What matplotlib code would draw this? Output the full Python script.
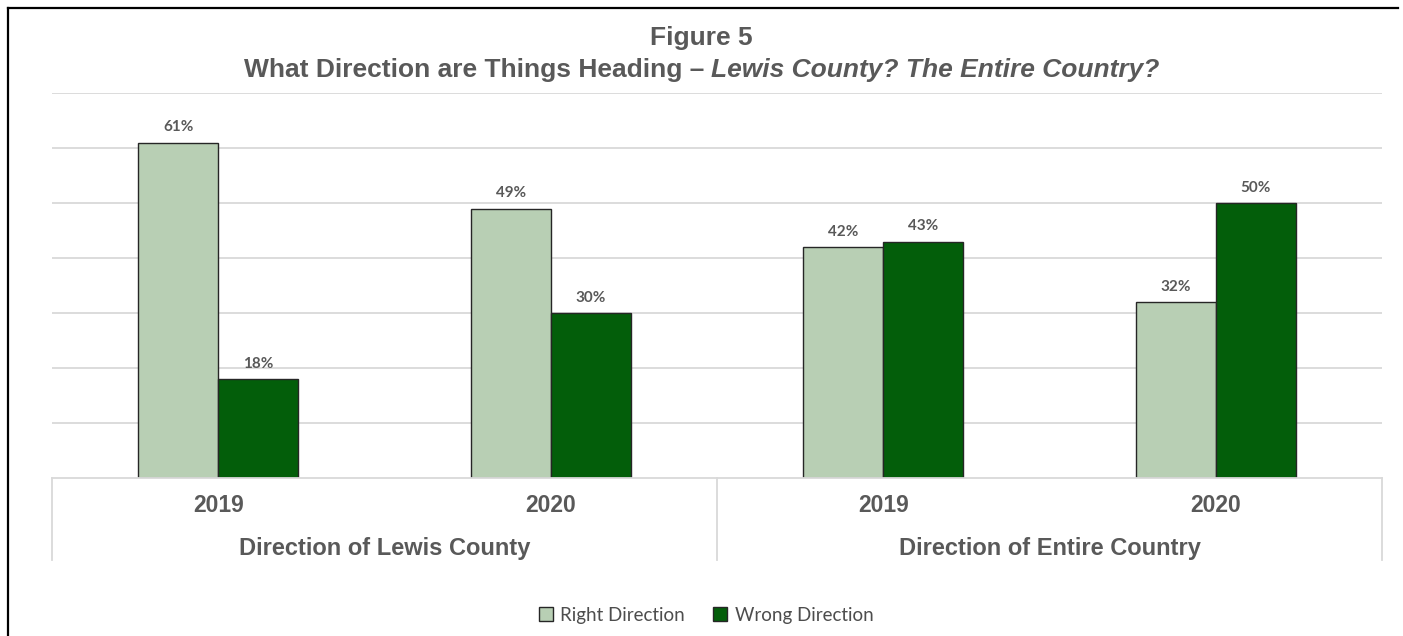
import numpy as np
import matplotlib.pyplot as plt
from matplotlib.lines import Line2D
from matplotlib.patches import Patch

years = ["2019", "2020", "2019", "2020"]
groups = ["Direction of Lewis County", "Direction of Entire Country"]
series = ["Right Direction", "Wrong Direction"]
right_dir = [61, 49, 42, 32]
wrong_dir = [18, 30, 43, 50]

light = "#b8cfb4"
dark = "#035e0a"
grey = "#595959"
grid = "#d9d9d9"

fig = plt.figure(figsize=(14.03, 6.36), dpi=100)
W, H = 1403, 636
ax = fig.add_axes([52 / W, (H - 478) / H, (1382 - 52) / W, (478 - 93) / H])

x = np.arange(len(years))
bw = 0.24
b1 = ax.bar(x - bw / 2, right_dir, bw, color=light, edgecolor="#262626", linewidth=1, zorder=3)
b2 = ax.bar(x + bw / 2, wrong_dir, bw, color=dark, edgecolor="#262626", linewidth=1, zorder=3)

for bars, vals in ((b1, right_dir), (b2, wrong_dir)):
    for r, v in zip(bars, vals):
        ax.annotate(f"{v}%", (r.get_x() + r.get_width() / 2, v), xytext=(0, 6),
                    textcoords="offset points", ha="center", va="bottom",
                    fontsize=11, fontweight="bold", color=grey, family="Lato")

ax.set_xlim(-0.5, 3.5)
ax.set_ylim(0, 70)
ax.set_yticks(np.arange(10, 71, 10))
ax.yaxis.grid(True, color=grid, linewidth=1.3, zorder=0)
ax.tick_params(left=False, bottom=False, labelleft=False, labelbottom=False)
for s in ax.spines.values():
    s.set_visible(False)

# category box under the plot
tr = ax.get_xaxis_transform()
ax.plot([-0.5, 3.5], [0, 0], transform=tr, color=grid, lw=1.3, clip_on=False, zorder=4)
for xv in (-0.5, 1.5, 3.5):
    ax.plot([xv, xv], [0, -0.213], transform=tr, color=grid, lw=1.3, clip_on=False)
for xi, yr in zip(x, years):
    ax.text(xi, -0.072, yr, transform=tr, ha="center", va="center", fontsize=16.5,
            fontweight="bold", color=grey, family="Liberation Sans")
for gi, g in enumerate(groups):
    ax.text(0.5 + 2 * gi, -0.182, g, transform=tr, ha="center", va="center", fontsize=17,
            fontweight="bold", color=grey, family="Liberation Sans")

# title
fig.text(0.5, 1 - 38 / H, "Figure 5", ha="center", va="center", fontsize=19,
         fontweight="bold", color=grey, family="Liberation Sans")
parts = [("What Direction are Things Heading \u2013 ", "normal"),
         ("Lewis County? The Entire Country?", "italic")]
texts = [fig.text(0, 1 - 70 / H, p, ha="left", va="center", fontsize=19, fontweight="bold",
                  style=st, color=grey, family="Liberation Sans") for p, st in parts]
fig.canvas.draw()
r = fig.canvas.get_renderer()
widths = [t.get_window_extent(r).width for t in texts]
xpos = (W - sum(widths)) / 2
for t, w in zip(texts, widths):
    t.set_x(xpos / W)
    xpos += w

handles = [Patch(facecolor=light, edgecolor="#262626", linewidth=1),
           Patch(facecolor=dark, edgecolor="#262626", linewidth=1)]
fig.legend(handles, series, loc="center", bbox_to_anchor=(706 / W, 1 - 615 / H), ncol=2,
           frameon=False, handlelength=0.75, handleheight=0.75, handletextpad=0.4,
           columnspacing=1.5, prop={"family": "Lato", "size": 13.5}, labelcolor="#4d4d4d")

# border lines on the left and top
fig.add_artist(Line2D([7.5 / W, 7.5 / W], [0, 1 - 7.5 / H], color="black", lw=1.6))
fig.add_artist(Line2D([7.5 / W, 1398 / W], [1 - 7.5 / H, 1 - 7.5 / H], color="black", lw=1.6))

fig.savefig("out.png", dpi=100)
